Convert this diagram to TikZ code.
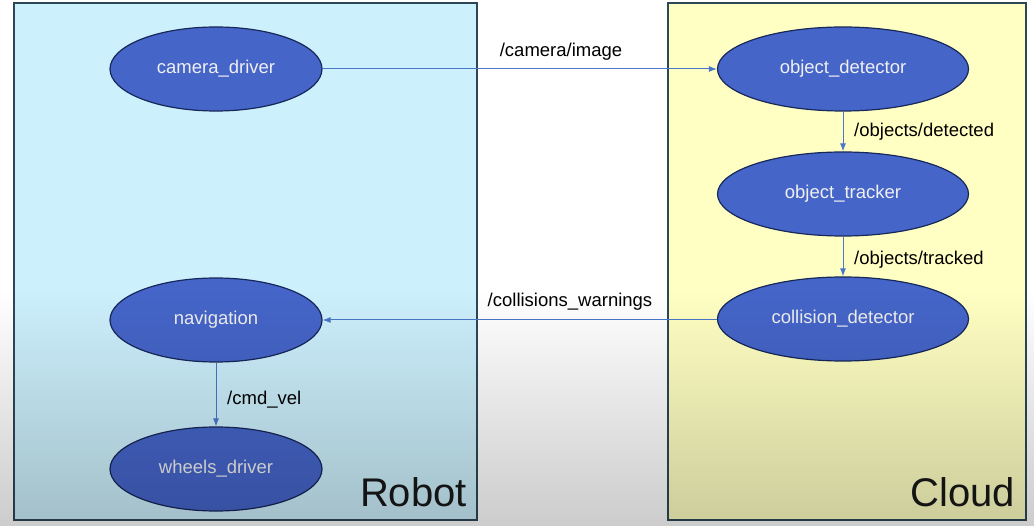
\documentclass[tikz,border=0pt]{standalone}
\usepackage{fontspec}
\setmainfont{Liberation Sans}
\usetikzlibrary{shapes.geometric,arrows.meta,fadings}
\definecolor{robotfill}{HTML}{CCF0FC}
\definecolor{cloudfill}{HTML}{FFFFC3}
\definecolor{nodefill}{HTML}{4565C9}
\definecolor{nodeline}{HTML}{17285A}
\definecolor{boxline}{HTML}{2E4757}
\definecolor{arrowcol}{HTML}{4A78C8}
\tikzfading[name=fadedown, top color=transparent!100, bottom color=transparent!0]
\begin{document}
\begin{tikzpicture}[x=1pt,y=-1pt,
  rosnode/.style={ellipse, draw=nodeline, line width=1.2pt, fill=nodefill, text=white!94!black,
    inner sep=0pt, minimum height=84pt, font=\fontsize{18.5}{22}\selectfont},
  robnode/.style={rosnode, minimum width=212pt},
  cldnode/.style={rosnode, minimum width=251pt},
  region/.style={draw=boxline, line width=2pt},
  topic/.style={draw=arrowcol, line width=1pt, -{Latex[length=8pt,width=6pt]}},
  topiclabel/.style={font=\fontsize{18.5}{22}\selectfont, text=black, inner sep=0pt},
  regionlabel/.style={font=\fontsize{40}{46}\selectfont, text=black!90, inner sep=0pt}]
\useasboundingbox (0,0) rectangle (1036,526);
\fill[white] (0,0) rectangle (1036,526);
% regions
\draw[region, fill=robotfill] (14,3) rectangle (477,520);
\draw[region, fill=cloudfill] (668,3) rectangle (1026,520);
% nodes
\node[robnode] (cam) at (216,69) {camera\_driver};
\node[robnode] (nav) at (216,320) {navigation};
\node[robnode] (wheels) at (216,469) {wheels\_driver};
\node[cldnode] (det) at (843,69) {object\_detector};
\node[cldnode] (trk) at (843,194) {object\_tracker};
\node[cldnode] (col) at (843,319) {collision\_detector};
% connectors
\draw[topic] (cam) -- (det);
\draw[topic] (det) -- (trk);
\draw[topic] (trk) -- (col);
\draw[topic] (col.west |- nav) -- (nav);
\draw[topic] (nav) -- (wheels);
% labels
\node[topiclabel] (l1) at (561,52) {/camera/image};
\node[topiclabel, anchor=west] (l2) at (854,132) {/objects/detected};
\node[topiclabel, anchor=west] (l3) at (854,260) {/objects/tracked};
\node[topiclabel] (l4) at (570,302) {/collisions\_warnings};
\node[topiclabel, anchor=west] (l5) at (227,400) {/cmd\_vel};
\node[regionlabel, anchor=base east] (robot) at (467,506) {Robot};
\node[regionlabel, anchor=base east] (cloud) at (1015,506) {Cloud};
% video gradient overlay
\fill[black, opacity=0.2, path fading=fadedown] (0,290) rectangle (1036,526);
\end{tikzpicture}
\end{document}
